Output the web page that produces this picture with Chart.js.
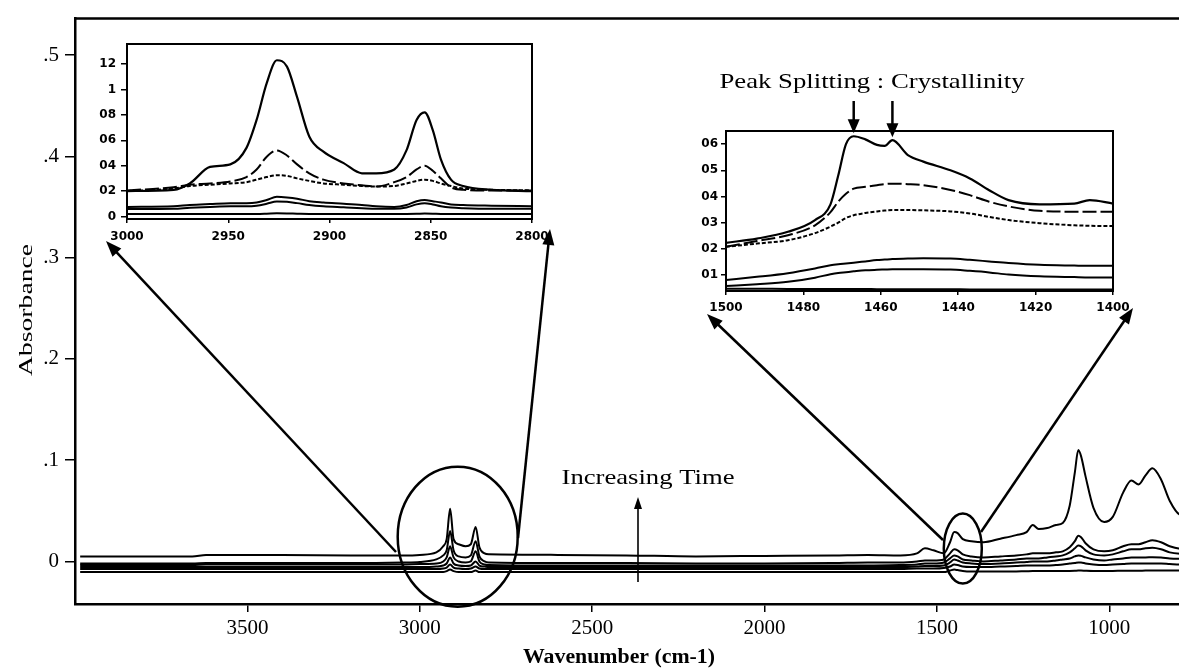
<!DOCTYPE html>
<html lang="en">
<head>
<meta charset="utf-8">
<title>FTIR absorbance spectra</title>
<script src="https://cdn.jsdelivr.net/npm/chart.js@4.4.1/dist/chart.umd.min.js"></script>
<style>
  html, body { margin: 0; padding: 0; background: #fff; }
  body { width: 1179px; height: 670px; overflow: hidden; position: relative; }
  canvas { position: absolute; display: block; }
  #main { left: 0; top: 0; width: 1240px; height: 670px; }
  #inset-ch { left: 60px; top: 30px; width: 500px; height: 230px; }
  #inset-bend { left: 660px; top: 60px; width: 480px; height: 265px; }
</style>
</head>
<body>
<canvas id="main" width="1240" height="670"></canvas>
<canvas id="inset-ch" width="500" height="230"></canvas>
<canvas id="inset-bend" width="480" height="265"></canvas>
<script>
const SERIF = '"Liberation Serif", "Times New Roman", serif';
const SANS = '"DejaVu Sans", sans-serif';

// full spectra, 3985-650 cm-1, one array per time step (t1 earliest)
const wavenumbers = [3985, 3800, 3660, 3620, 3400, 3200, 3050, 3000, 2952, 2932,
  2922, 2912, 2902, 2887, 2867, 2852, 2838, 2827, 2812, 2800,
  2600, 2400, 2200, 2000, 1800, 1700, 1606, 1558, 1535, 1510,
  1480, 1462, 1450, 1440, 1425, 1400, 1365, 1316, 1270, 1240,
  1222, 1205, 1180, 1155, 1135, 1115, 1100, 1090, 1082, 1069,
  1046, 1015, 990, 960, 936, 915, 895, 875, 850, 825,
  795, 760, 700, 650];
const absT6 = [0.005, 0.005, 0.005, 0.0065, 0.0065, 0.006, 0.006, 0.0065, 0.009, 0.015,
  0.022, 0.052, 0.022, 0.017, 0.015, 0.017, 0.034, 0.014, 0.008, 0.007,
  0.0065, 0.006, 0.005, 0.0055, 0.006, 0.0065, 0.006, 0.008, 0.013, 0.011,
  0.008, 0.019, 0.029, 0.028, 0.022, 0.020, 0.019, 0.0225, 0.026, 0.029,
  0.036, 0.032, 0.033, 0.036, 0.038, 0.055, 0.088, 0.110, 0.104, 0.084,
  0.053, 0.039, 0.044, 0.068, 0.080, 0.076, 0.085, 0.092, 0.081, 0.060,
  0.046, 0.044, 0.048, 0.045];
const absT5 = [-0.002, -0.002, -0.002, -0.0015, -0.0015, -0.0015, -0.001, -0.0005, 0.002, 0.006,
  0.011, 0.030, 0.011, 0.005, 0.004, 0.006, 0.020, 0.005, 0.0, -0.001,
  -0.0015, -0.0015, -0.002, -0.002, -0.0015, -0.001, -0.001, 0.0, 0.001, 0.001,
  0.002, 0.008, 0.012, 0.011, 0.007, 0.005, 0.004, 0.005, 0.006, 0.007,
  0.008, 0.008, 0.008, 0.009, 0.010, 0.014, 0.020, 0.0255, 0.024, 0.018,
  0.012, 0.010, 0.011, 0.015, 0.017, 0.017, 0.019, 0.021, 0.019, 0.015,
  0.0125, 0.012, 0.013, 0.012];
const absT4 = [-0.0035, -0.0035, -0.0035, -0.003, -0.003, -0.003, -0.003, -0.0025, -0.002, 0.0,
  0.004, 0.015, 0.004, 0.0, -0.001, 0.0, 0.010, 0.0, -0.003, -0.0035,
  -0.004, -0.004, -0.004, -0.004, -0.004, -0.004, -0.0035, -0.003, -0.002, -0.002,
  -0.001, 0.003, 0.006, 0.005, 0.002, 0.001, 0.0, 0.001, 0.002, 0.003,
  0.003, 0.003, 0.004, 0.005, 0.006, 0.009, 0.013, 0.0157, 0.015, 0.011,
  0.007, 0.006, 0.007, 0.010, 0.012, 0.012, 0.013, 0.0135, 0.012, 0.009,
  0.0075, 0.007, 0.008, 0.007];
const absT3 = [-0.0055, -0.0055, -0.0055, -0.0055, -0.0055, -0.0055, -0.0055, -0.0055, -0.005, -0.004,
  -0.002, 0.004, -0.002, -0.004, -0.0045, -0.004, 0.0, -0.004, -0.005, -0.0055,
  -0.0055, -0.0055, -0.0055, -0.0055, -0.0055, -0.0055, -0.0055, -0.005, -0.0045, -0.0045,
  -0.004, -0.001, 0.002, 0.001, -0.001, -0.002, -0.0025, -0.002, -0.001, -0.0005,
  0.0, 0.0, 0.0, 0.001, 0.002, 0.003, 0.005, 0.006, 0.0055, 0.004,
  0.002, 0.001, 0.002, 0.003, 0.004, 0.004, 0.004, 0.0042, 0.004, 0.003,
  0.0026, 0.0025, 0.003, 0.0025];
const absT2 = [-0.0075, -0.0075, -0.0075, -0.0075, -0.0075, -0.0075, -0.0075, -0.0075, -0.0075, -0.007,
  -0.006, -0.003, -0.006, -0.007, -0.0075, -0.007, -0.005, -0.007, -0.0075, -0.0075,
  -0.0075, -0.0075, -0.0075, -0.0075, -0.0075, -0.0075, -0.0075, -0.007, -0.007, -0.007,
  -0.0065, -0.005, -0.003, -0.0035, -0.005, -0.0055, -0.0055, -0.005, -0.0045, -0.004,
  -0.004, -0.004, -0.004, -0.0035, -0.003, -0.002, -0.0015, -0.001, -0.001, -0.002,
  -0.003, -0.0035, -0.003, -0.0025, -0.002, -0.002, -0.002, -0.002, -0.002, -0.0025,
  -0.003, -0.003, -0.003, -0.003];
const absT1 = [-0.0105, -0.0105, -0.0105, -0.0105, -0.0105, -0.0105, -0.0105, -0.0105, -0.0105, -0.0105,
  -0.0095, -0.008, -0.0095, -0.0105, -0.0105, -0.0105, -0.009, -0.0105, -0.0105, -0.0105,
  -0.0105, -0.0105, -0.0105, -0.0105, -0.0105, -0.0105, -0.0105, -0.0105, -0.0105, -0.0105,
  -0.0105, -0.009, -0.008, -0.0085, -0.0095, -0.010, -0.010, -0.010, -0.0098, -0.0096,
  -0.0095, -0.0095, -0.0095, -0.0095, -0.0095, -0.0094, -0.0092, -0.009, -0.009, -0.0092,
  -0.0094, -0.0094, -0.0093, -0.0092, -0.0091, -0.0091, -0.009, -0.009, -0.009, -0.009,
  -0.009, -0.009, -0.009, -0.009];

const mainXTicks = [3500, 3000, 2500, 2000, 1500, 1000];
const mainYTicks = [0, 0.1, 0.2, 0.3, 0.4, 0.5];
const mainYLabels = ['0', '.1', '.2', '.3', '.4', '.5'];

// C-H stretching window, 3000-2800 cm-1
const chWavenumbers = [3000, 2977, 2969, 2959, 2949, 2941, 2936, 2931, 2926, 2921,
  2916, 2910, 2903, 2893, 2884, 2877, 2868, 2862, 2857, 2853,
  2849, 2845, 2840, 2834, 2820, 2800];
const chT6 = [0.020, 0.021, 0.026, 0.039, 0.041, 0.054, 0.076, 0.105, 0.123, 0.118,
  0.094, 0.063, 0.051, 0.042, 0.034, 0.034, 0.037, 0.052, 0.076, 0.082,
  0.068, 0.045, 0.029, 0.024, 0.021, 0.020];
const chT5 = [0.0205, 0.023, 0.025, 0.026, 0.0275, 0.031, 0.037, 0.047, 0.052, 0.048,
  0.041, 0.034, 0.029, 0.026, 0.0245, 0.0236, 0.027, 0.031, 0.037, 0.040,
  0.036, 0.030, 0.023, 0.021, 0.0205, 0.0205];
const chT4 = [0.020, 0.022, 0.024, 0.025, 0.026, 0.027, 0.029, 0.031, 0.0325, 0.032,
  0.030, 0.028, 0.026, 0.025, 0.024, 0.0236, 0.024, 0.026, 0.028, 0.029,
  0.028, 0.026, 0.024, 0.022, 0.021, 0.0205];
const chT3 = [0.0075, 0.008, 0.009, 0.0098, 0.0105, 0.0105, 0.011, 0.013, 0.0155, 0.015,
  0.014, 0.012, 0.011, 0.010, 0.009, 0.008, 0.0075, 0.009, 0.012, 0.013,
  0.012, 0.011, 0.0095, 0.009, 0.0085, 0.008];
const chT2 = [0.0058, 0.006, 0.0068, 0.0075, 0.008, 0.008, 0.0085, 0.010, 0.0118, 0.0115,
  0.0105, 0.009, 0.008, 0.0072, 0.0065, 0.006, 0.006, 0.007, 0.0095, 0.0105,
  0.0095, 0.008, 0.007, 0.0065, 0.006, 0.006];
const chT1 = [0.002, 0.002, 0.002, 0.002, 0.002, 0.002, 0.002, 0.0022, 0.0025, 0.0024,
  0.0022, 0.002, 0.002, 0.002, 0.002, 0.002, 0.002, 0.002, 0.0021, 0.0023,
  0.0022, 0.002, 0.002, 0.002, 0.002, 0.002];
const chXTicks = [3000, 2950, 2900, 2850, 2800];
const chYTicks = [0, 0.02, 0.04, 0.06, 0.08, 0.1, 0.12];
const chYLabels = ['0', '02', '04', '06', '08', '1', '12'];

// CH2 bending window, 1500-1400 cm-1
const bendWavenumbers = [1500, 1492, 1484, 1477, 1473, 1471, 1469, 1467, 1464, 1461,
  1459, 1457, 1453, 1449, 1442, 1437, 1432, 1427, 1419, 1410, 1406, 1400];
const bendT6 = [0.0223, 0.0239, 0.0265, 0.031, 0.037, 0.048, 0.060, 0.063, 0.0618, 0.0597,
  0.0593, 0.0615, 0.0558, 0.0533, 0.050, 0.0469, 0.0424, 0.0386, 0.037, 0.0373, 0.0386, 0.0373];
const bendT5 = [0.0208, 0.023, 0.0252, 0.029, 0.034, 0.038, 0.041, 0.043, 0.0437, 0.0443,
  0.0447, 0.0449, 0.0447, 0.0443, 0.0425, 0.0405, 0.038, 0.0362, 0.0345, 0.0342, 0.0342, 0.0342];
const bendT4 = [0.0208, 0.022, 0.0233, 0.026, 0.0285, 0.030, 0.0318, 0.0328, 0.0337, 0.0343,
  0.0346, 0.0348, 0.0348, 0.0347, 0.0343, 0.0335, 0.0322, 0.031, 0.0298, 0.029, 0.0288, 0.0287];
const bendT3 = [0.0081, 0.0093, 0.0107, 0.0125, 0.0137, 0.0141, 0.0144, 0.0147, 0.0152, 0.0157,
  0.0159, 0.0161, 0.0163, 0.0164, 0.0163, 0.0158, 0.0152, 0.0146, 0.0139, 0.0136, 0.0135, 0.0135];
const bendT2 = [0.0058, 0.0065, 0.0074, 0.009, 0.0103, 0.0108, 0.0111, 0.0114, 0.0118, 0.012,
  0.0121, 0.0122, 0.0122, 0.0122, 0.0121, 0.0116, 0.011, 0.0102, 0.0095, 0.0092, 0.0091, 0.0091];
const bendT1 = [0.0048, 0.0048, 0.0047, 0.0047, 0.0047, 0.0047, 0.0047, 0.0047, 0.0047, 0.0046,
  0.0046, 0.0046, 0.0046, 0.0046, 0.0046, 0.0045, 0.0045, 0.0045, 0.0045, 0.0045, 0.0045, 0.0045];
const bendXTicks = [1500, 1480, 1460, 1440, 1420, 1400];
const bendYTicks = [0.01, 0.02, 0.03, 0.04, 0.05, 0.06];
const bendYLabels = ['01', '02', '03', '04', '05', '06'];
const splitPeaks = [1467, 1457];

// ---- helpers ----
function spectrum(xs, ys, width, dash) {
  return {
    data: xs.map((x, i) => ({ x: x, y: ys[i] })),
    borderColor: '#000',
    borderWidth: width,
    borderDash: dash || [],
    pointRadius: 0,
    fill: false,
    cubicInterpolationMode: 'monotone'
  };
}

function axis(o) {
  return {
    type: 'linear',
    min: o.min,
    max: o.max,
    reverse: !!o.reverse,
    afterBuildTicks: s => { s.ticks = o.ticks.map(v => ({ value: v })); },
    afterFit: s => {
      if (o.width) s.width = o.width;
      if (o.height) s.height = o.height;
    },
    ticks: {
      color: '#000',
      font: o.font,
      padding: o.padding,
      maxRotation: 0,
      autoSkip: false,
      callback: (v, i) => (o.labels ? o.labels[i] : String(v))
    },
    grid: { drawOnChartArea: false, color: '#000', lineWidth: 1.5, tickLength: o.tickLength },
    border: { color: '#000', width: o.border }
  };
}

function fittedText(ctx, text, x, y, font, width, angle) {
  ctx.save();
  ctx.font = font;
  ctx.fillStyle = '#000';
  ctx.textAlign = 'center';
  ctx.textBaseline = 'middle';
  ctx.translate(x, y);
  if (angle) ctx.rotate(angle);
  ctx.scale(width / ctx.measureText(text).width, 1);
  ctx.fillText(text, 0, 0);
  ctx.restore();
}

function arrow(ctx, x1, y1, x2, y2, lw, headLen, headW) {
  const a = Math.atan2(y2 - y1, x2 - x1);
  ctx.save();
  ctx.strokeStyle = '#000';
  ctx.fillStyle = '#000';
  ctx.lineWidth = lw;
  ctx.beginPath();
  ctx.moveTo(x1, y1);
  ctx.lineTo(x2 - headLen * 0.7 * Math.cos(a), y2 - headLen * 0.7 * Math.sin(a));
  ctx.stroke();
  ctx.translate(x2, y2);
  ctx.rotate(a);
  ctx.beginPath();
  ctx.moveTo(0, 0);
  ctx.lineTo(-headLen, headW / 2);
  ctx.lineTo(-headLen, -headW / 2);
  ctx.closePath();
  ctx.fill();
  ctx.restore();
}

// closed box round the plotting area
const frame = {
  id: 'frame',
  afterDraw(chart) {
    const { ctx, chartArea: a } = chart;
    ctx.save();
    ctx.strokeStyle = '#000';
    ctx.lineWidth = 2;
    ctx.strokeRect(a.left, a.top, a.right - a.left, a.bottom - a.top);
    ctx.restore();
  }
};

const baseOptions = {
  responsive: false,
  animation: false,
  events: [],
  plugins: { legend: { display: false }, tooltip: { enabled: false } }
};

// ---- C-H stretch inset ----
new Chart(document.getElementById('inset-ch'), {
  type: 'line',
  data: {
    datasets: [
      spectrum(chWavenumbers, chT1, 2),
      spectrum(chWavenumbers, chT2, 2),
      spectrum(chWavenumbers, chT3, 2),
      spectrum(chWavenumbers, chT4, 2, [4, 2]),
      spectrum(chWavenumbers, chT5, 2, [14, 4]),
      spectrum(chWavenumbers, chT6, 2.2)
    ]
  },
  options: Object.assign({}, baseOptions, {
    layout: { padding: { top: 14, right: 28, left: 0, bottom: 0 } },
    scales: {
      x: axis({ min: 2800, max: 3000, reverse: true, ticks: chXTicks, height: 41, tickLength: 4, padding: 7,
                font: { family: SANS, size: 12, weight: 'bold' }, border: 2 }),
      y: axis({ min: -0.002, max: 0.1358, ticks: chYTicks, labels: chYLabels, width: 67, tickLength: 6, padding: 5,
                font: { family: SANS, size: 12, weight: 'bold' }, border: 2 })
    }
  }),
  plugins: [frame]
});

// ---- CH2 bending inset, with the split peak pointers ----
const splitNotes = {
  id: 'splitNotes',
  afterDraw(chart) {
    const { ctx } = chart;
    const xs = chart.scales.x, ys = chart.scales.y;
    fittedText(ctx, 'Peak Splitting : Crystallinity', 212, 22, '21px ' + SERIF, 305);
    splitPeaks.forEach(w => {
      const peak = bendT6[bendWavenumbers.indexOf(w)];
      const px = xs.getPixelForValue(w);
      arrow(ctx, px, 41, px, ys.getPixelForValue(peak) - 3, 2.5, 14, 12);
    });
  }
};

new Chart(document.getElementById('inset-bend'), {
  type: 'line',
  data: {
    datasets: [
      spectrum(bendWavenumbers, bendT1, 2),
      spectrum(bendWavenumbers, bendT2, 2),
      spectrum(bendWavenumbers, bendT3, 2),
      spectrum(bendWavenumbers, bendT4, 2, [4, 2]),
      spectrum(bendWavenumbers, bendT5, 2, [14, 4]),
      spectrum(bendWavenumbers, bendT6, 2.2)
    ]
  },
  options: Object.assign({}, baseOptions, {
    layout: { padding: { top: 71, right: 27, left: 0, bottom: 0 } },
    scales: {
      x: axis({ min: 1400, max: 1500, reverse: true, ticks: bendXTicks, height: 34, tickLength: 4, padding: 6,
                font: { family: SANS, size: 12, weight: 'bold' }, border: 2 }),
      y: axis({ min: 0.0039, max: 0.065, ticks: bendYTicks, labels: bendYLabels, width: 66, tickLength: 5, padding: 3,
                font: { family: SANS, size: 12, weight: 'bold' }, border: 2 })
    }
  }),
  plugins: [frame, splitNotes]
});

// ---- main spectrum ----
const zoomRings = [
  { w: 2890, a: 0.0245, rx: 60, ry: 70 },
  { w: 1425, a: 0.0127, rx: 19, ry: 35 }
];
const zoomArrows = [
  [396, 552, 106, 241],
  [518, 538, 550, 229],
  [943, 540, 707, 314],
  [981, 532, 1133, 308]
];

const mainNotes = {
  id: 'mainNotes',
  afterDraw(chart) {
    const { ctx, chartArea: a } = chart;
    const xs = chart.scales.x, ys = chart.scales.y;
    ctx.save();
    ctx.strokeStyle = '#000';
    ctx.lineWidth = 2.5;
    ctx.beginPath();
    ctx.moveTo(a.left, a.top);
    ctx.lineTo(a.right, a.top);
    ctx.lineTo(a.right, a.bottom);
    ctx.stroke();
    zoomRings.forEach(r => {
      ctx.beginPath();
      ctx.ellipse(xs.getPixelForValue(r.w), ys.getPixelForValue(r.a), r.rx, r.ry, 0, 0, Math.PI * 2);
      ctx.stroke();
    });
    ctx.restore();

    zoomArrows.forEach(z => arrow(ctx, z[0], z[1], z[2], z[3], 2.5, 16, 12));

    fittedText(ctx, 'Increasing Time', 648, 478, '22px ' + SERIF, 173);
    arrow(ctx, 638, 582, 638, 497, 1.6, 12, 8);

    fittedText(ctx, 'Wavenumber (cm-1)', 619, 658, 'bold 20px ' + SERIF, 192);
    fittedText(ctx, 'Absorbance', 27, 310, '19px ' + SERIF, 132, -Math.PI / 2);
  }
};

new Chart(document.getElementById('main'), {
  type: 'line',
  data: {
    datasets: [
      spectrum(wavenumbers, absT1, 2),
      spectrum(wavenumbers, absT2, 2),
      spectrum(wavenumbers, absT3, 2),
      spectrum(wavenumbers, absT4, 2),
      spectrum(wavenumbers, absT5, 2),
      spectrum(wavenumbers, absT6, 2)
    ]
  },
  options: Object.assign({}, baseOptions, {
    layout: { padding: { top: 14, right: 10, left: 0, bottom: 0 } },
    scales: {
      x: axis({ min: 650, max: 4000, reverse: true, ticks: mainXTicks, height: 66, tickLength: 8, padding: 4,
                font: { family: SERIF, size: 21 }, border: 2.5 }),
      y: axis({ min: -0.042, max: 0.536, ticks: mainYTicks, labels: mainYLabels, width: 75, tickLength: 10, padding: 6,
                font: { family: SERIF, size: 21 }, border: 2.5 })
    }
  }),
  plugins: [mainNotes]
});
</script>
</body>
</html>
